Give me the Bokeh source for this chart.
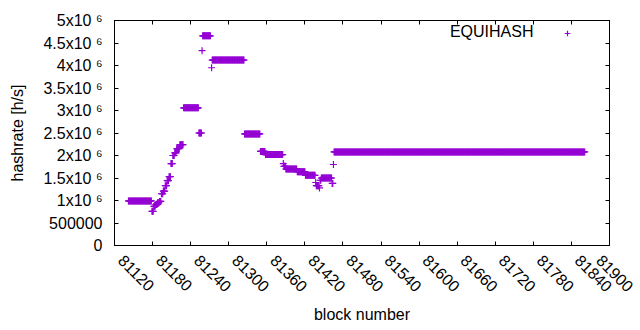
import math
from bokeh.plotting import figure
from bokeh.models import (Range1d, FixedTicker, LinearAxis, CustomJSTickFormatter,
                          Legend, LegendItem, Label, ColumnDataSource)
from bokeh.embed import file_html
from bokeh.resources import INLINE

# Hashrate runs: first block, last block, hashrate [h/s]
run_start = [81142, 81179, 81182, 81185, 81188, 81191, 81194, 81197, 81200, 81203,
             81206, 81209, 81212, 81215, 81218, 81223, 81229, 81253, 81258, 81259,
             81273, 81274, 81325, 81350, 81358, 81386, 81387, 81390, 81408, 81421,
             81437, 81438, 81443, 81444, 81446, 81463, 81465, 81466]
run_end = [81178, 81181, 81184, 81187, 81190, 81193, 81196, 81199, 81202, 81205,
           81208, 81211, 81214, 81217, 81222, 81228, 81252, 81257, 81258, 81271,
           81273, 81324, 81349, 81357, 81385, 81386, 81389, 81407, 81420, 81436,
           81437, 81442, 81443, 81445, 81462, 81464, 81465, 81861]
run_value = [0.99e6, 0.76e6, 0.87e6, 0.91e6, 0.95e6, 0.98e6, 1.15e6, 1.21e6, 1.33e6, 1.44e6,
             1.53e6, 1.82e6, 2.00e6, 2.06e6, 2.15e6, 2.24e6, 3.06e6, 2.50e6, 4.33e6, 4.66e6,
             3.95e6, 4.12e6, 2.48e6, 2.09e6, 2.02e6, 1.82e6, 1.76e6, 1.70e6, 1.64e6, 1.56e6,
             1.40e6, 1.33e6, 1.28e6, 1.45e6, 1.50e6, 1.38e6, 1.80e6, 2.08e6]

x_ticks = [81120, 81180, 81240, 81300, 81360, 81420, 81480, 81540, 81600, 81660,
           81720, 81780, 81840, 81900]
x_tick_labels = ["81120", "81180", "81240", "81300", "81360", "81420", "81480", "81540",
                 "81600", "81660", "81720", "81780", "81840", "81900"]
y_ticks = [0, 500000, 1000000, 1500000, 2000000, 2500000, 3000000, 3500000,
           4000000, 4500000, 5000000]
y_tick_labels = ["0", "500000", "1x10 \u2076", "1.5x10 \u2076", "2x10 \u2076", "2.5x10 \u2076",
                 "3x10 \u2076", "3.5x10 \u2076", "4x10 \u2076", "4.5x10 \u2076", "5x10 \u2076"]
series_name = "EQUIHASH"

blocks, rates = [], []
for s, e, v in zip(run_start, run_end, run_value):
    for b in range(s, e + 1):
        blocks.append(b)
        rates.append(v)

FONT = "Liberation Sans"
COLOR = "#9400D3"

p = figure(width=636, height=329, output_backend="svg", toolbar_location=None,
           x_range=Range1d(81120, 81900), y_range=Range1d(0, 5000000),
           min_border_left=114, min_border_right=27, min_border_top=20, min_border_bottom=84)
p.grid.visible = False
p.outline_line_color = "black"
p.outline_line_width = 1
p.background_fill_color = "white"
p.border_fill_color = "white"

src = ColumnDataSource(dict(x=blocks, y=rates))
r = p.scatter("x", "y", source=src, marker="cross", size=7, line_color=COLOR, line_width=1.2)

def style_axis(ax):
    ax.axis_line_color = "black"
    ax.major_tick_line_color = "black"
    ax.major_tick_in = 4
    ax.major_tick_out = 0
    ax.minor_tick_line_color = None
    ax.major_label_text_font = FONT
    ax.major_label_text_font_size = "16px"
    ax.major_label_text_color = "black"
    ax.axis_label_text_font = FONT
    ax.axis_label_text_font_size = "16px"
    ax.axis_label_text_font_style = "normal"
    ax.axis_label_text_color = "black"

xa = p.xaxis[0]
style_axis(xa)
xa.ticker = FixedTicker(ticks=x_ticks)
xa.major_label_overrides = {t: "\u00a0\u00a0" + l for t, l in zip(x_ticks, x_tick_labels)}
xa.major_label_orientation = -math.pi / 4
xa.major_label_standoff = 6
xa.axis_label = "block number"
xa.axis_label_standoff = 2

ya = p.yaxis[0]
style_axis(ya)
ya.ticker = FixedTicker(ticks=y_ticks)
ya.major_label_overrides = {t: l for t, l in zip(y_ticks, y_tick_labels)}
ya.major_label_standoff = 12
ya.axis_label = "hashrate [h/s]"
ya.axis_label_standoff = 14

blank = "return ''"
top = LinearAxis(ticker=FixedTicker(ticks=x_ticks), formatter=CustomJSTickFormatter(code=blank))
right = LinearAxis(ticker=FixedTicker(ticks=y_ticks), formatter=CustomJSTickFormatter(code=blank))
for ax in (top, right):
    style_axis(ax)
    ax.major_label_standoff = 0
    ax.major_label_text_font_size = "1px"
p.add_layout(top, "above")
p.add_layout(right, "right")

legend = Legend(items=[LegendItem(label=" ", renderers=[r])], location=(446, 205),
                padding=0, margin=0, border_line_color=None, background_fill_alpha=0,
                glyph_width=14, glyph_height=14, label_standoff=0, label_width=0,
                label_height=14, label_text_font_size="1px")
p.add_layout(legend)

p.add_layout(Label(x=419, y=214, x_units="screen", y_units="screen", text=series_name,
                   text_align="right", text_baseline="middle", text_font=FONT,
                   text_font_size="16px", text_color="black"))

open("out.html", "w").write(file_html(p, INLINE))
